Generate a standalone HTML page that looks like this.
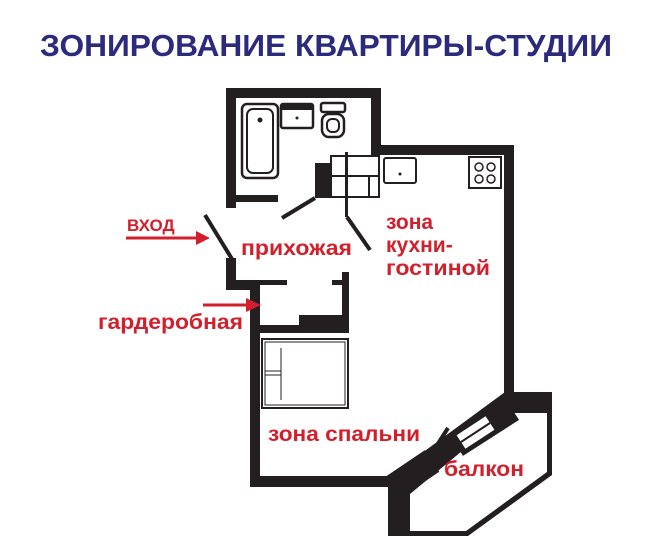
<!DOCTYPE html>
<html><head><meta charset="utf-8"><style>
body{margin:0;background:#fff;width:660px;height:555px;overflow:hidden}
svg{display:block}
.r{fill:#d21f2b;font-family:"Liberation Sans",sans-serif;font-weight:bold}
</style></head><body>
<svg width="660" height="555" viewBox="0 0 660 555" xmlns="http://www.w3.org/2000/svg">
<text x="40" y="56" textLength="572" lengthAdjust="spacingAndGlyphs" font-family="Liberation Sans,sans-serif" font-weight="bold" font-size="31" fill="#2b2a7c">ЗОНИРОВАНИЕ КВАРТИРЫ-СТУДИИ</text>
<g fill="#231f20">
<!-- bathroom -->
<rect x="226" y="88" width="155" height="10"/>
<rect x="226" y="88" width="10" height="120"/>
<rect x="236" y="195" width="42" height="7"/>
<rect x="371" y="88" width="10" height="67"/>
<rect x="371" y="145" width="143" height="10"/>
<rect x="504" y="145" width="10" height="250"/>
<rect x="315" y="163" width="15" height="35"/>
<rect x="345" y="152" width="3" height="65"/>
<!-- entry left walls -->
<rect x="226" y="258" width="10" height="32"/>
<rect x="226" y="280" width="34" height="10"/>
<rect x="250" y="280" width="10" height="207"/>
<rect x="260" y="280" width="27" height="5"/>
<rect x="332" y="280" width="12" height="5"/>
<rect x="342" y="272" width="7" height="61"/>
<rect x="260" y="325" width="89" height="8"/>
<rect x="299" y="315" width="50" height="18"/>
<!-- bottom -->
<rect x="250" y="476" width="150" height="11"/>
<!-- balcony -->
<polygon points="388,478 505,392 552,392 552,475 468,536 388,536"/>
</g>
<polygon points="410,494 508,413 547,413 547,472 466,531 410,531" fill="#fff"/>
<g stroke="#231f20" fill="none">
<line x1="392" y1="488" x2="432" y2="461" stroke-width="26"/>
<line x1="456" y1="445" x2="512" y2="409" stroke-width="26"/>
<line x1="461" y1="442" x2="490" y2="423" stroke-width="16" stroke="#fff"/>
<line x1="461" y1="442" x2="490" y2="423" stroke-width="2"/>
<!-- doors -->
<line x1="282" y1="218" x2="315" y2="198" stroke-width="4"/>
<line x1="347" y1="217" x2="370" y2="250" stroke-width="4"/>
<line x1="205" y1="215" x2="232" y2="259" stroke-width="4"/>
<line x1="432" y1="453" x2="448" y2="428" stroke-width="4"/>
<!-- cabinets -->
<rect x="331" y="156" width="48" height="41" stroke-width="2"/>
<line x1="331" y1="176" x2="379" y2="176" stroke-width="2"/>
<line x1="369" y1="176" x2="369" y2="197" stroke-width="2"/>
<!-- bathtub -->
<rect x="242" y="104" width="36" height="74" rx="5" stroke-width="2.5"/>
<rect x="247" y="109" width="26" height="64" rx="6" stroke-width="2"/>
<!-- sink -->
<rect x="281" y="104" width="32" height="24" rx="2" stroke-width="2.5"/>
<!-- toilet -->
<rect x="321" y="103" width="24" height="9" rx="2" stroke-width="2.5"/>
<rect x="322" y="114" width="22" height="23" rx="7" stroke-width="2.5"/>
<rect x="327" y="119" width="12" height="13" rx="5" stroke-width="2"/>
<!-- kitchen -->
<rect x="384" y="158" width="32" height="25" rx="2" stroke-width="2"/>
<rect x="469" y="157" width="32" height="31" stroke-width="2"/>
<circle cx="479" cy="167" r="4" stroke-width="1.5"/><circle cx="491" cy="167" r="4" stroke-width="1.5"/>
<circle cx="479" cy="179" r="4" stroke-width="1.5"/><circle cx="491" cy="179" r="4" stroke-width="1.5"/>
<!-- bed -->
<rect x="262" y="339" width="86" height="69" stroke-width="2"/>
<rect x="265" y="342" width="80" height="63" stroke-width="1"/>
<line x1="281" y1="348" x2="281" y2="400" stroke-width="1"/>
<line x1="265" y1="371" x2="281" y2="371" stroke-width="1"/>
<line x1="265" y1="375" x2="281" y2="375" stroke-width="1"/>
</g>
<rect x="281" y="104" width="32" height="6" fill="#231f20"/>
<g fill="#231f20"><circle cx="260" cy="120" r="2.5"/><circle cx="297" cy="118" r="1.5"/><circle cx="400" cy="174" r="1.5"/></g>
<!-- arrows -->
<g stroke="#d21f2b" stroke-width="3" fill="#d21f2b">
<line x1="126" y1="238" x2="196" y2="238"/>
<polygon points="196,231 210,238 196,245" stroke="none"/>
<line x1="203" y1="305" x2="248" y2="305"/>
<polygon points="246,298 261,305 246,312" stroke="none"/>
</g>
<text class="r" x="127" y="231" font-size="17">ВХОД</text>
<text class="r" x="241" y="255" font-size="21" textLength="111" lengthAdjust="spacingAndGlyphs">прихожая</text>
<text class="r" x="386" y="229" font-size="21">зона</text>
<text class="r" x="386" y="252" font-size="21">кухни-</text>
<text class="r" x="386" y="275" font-size="21" textLength="104" lengthAdjust="spacingAndGlyphs">гостиной</text>
<text class="r" x="98" y="329" font-size="21" textLength="145" lengthAdjust="spacingAndGlyphs">гардеробная</text>
<text class="r" x="268" y="441" font-size="21" textLength="152" lengthAdjust="spacingAndGlyphs">зона спальни</text>
<text class="r" x="444" y="476" font-size="21" textLength="80" lengthAdjust="spacingAndGlyphs">балкон</text>
</svg>
</body></html>
